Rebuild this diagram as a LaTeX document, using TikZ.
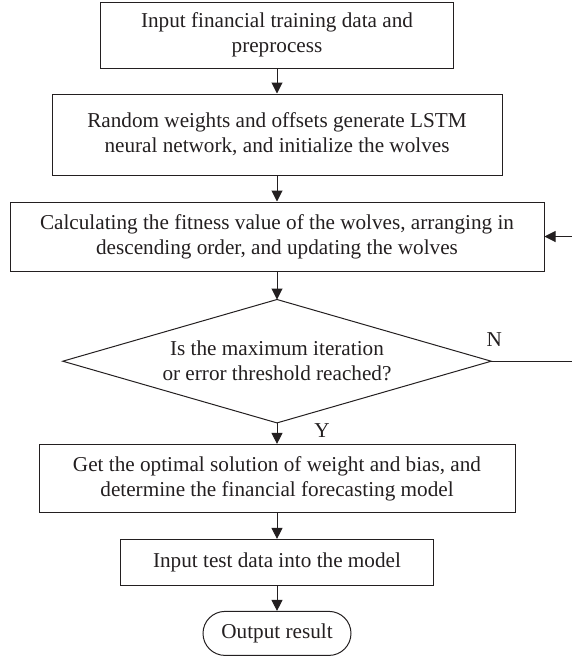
\documentclass[tikz,border=0pt]{standalone}
\usepackage{fontspec}
\setmainfont{Liberation Serif}
\usepackage{xcolor}
\usepackage{tikz}
\usetikzlibrary{arrows.meta,positioning}
\definecolor{ink}{HTML}{231F20}
\tikzset{
  stepbox/.style={rectangle, draw=ink, line width=1pt, align=center, inner sep=0pt, text=ink},
  testbox/.style={rectangle, align=center, inner sep=0pt, text=ink},
  endbox/.style={rectangle, rounded corners=22pt, draw=ink, line width=1pt, inner sep=0pt, text=ink},
  lbl/.style={text=ink, inner sep=0pt},
  edge/.style={draw=ink, line width=1pt},
  flow/.style={-{Triangle[length=11pt,width=11pt]}, draw=ink, line width=1pt},
}

\begin{document}
\begin{tikzpicture}[x=1pt, y=-1pt, every node/.style={font=\fontsize{21.2}{25}\selectfont}]
\useasboundingbox (0,0) rectangle (572,657);
\node[stepbox, minimum width=353pt, minimum height=66pt] (load) at (277,35)
 {Input financial training data and\\preprocess};
\node[stepbox, minimum width=450pt, minimum height=81pt, below=25pt of load] (init)
 {Random weights and offsets generate LSTM\\neural network, and initialize the wolves};
\node[stepbox, minimum width=534pt, minimum height=69pt, below=26pt of init] (fit)
 {Calculating the fitness value of the wolves, arranging in\\descending order, and updating the wolves};
\node[testbox, minimum width=428pt, minimum height=123pt, below=28pt of fit] (stop)
 {Is the maximum iteration\\or error threshold reached?};
\draw[edge] (stop.north) -- (stop.east) -- (stop.south) -- (stop.west) -- cycle;
\node[stepbox, minimum width=476pt, minimum height=68pt, below=21pt of stop] (best)
 {Get the optimal solution of weight and bias, and\\determine the financial forecasting model};
\node[stepbox, minimum width=313pt, minimum height=46pt, below=26pt of best] (test)
 {Input test data into the model};
\node[endbox, minimum width=148pt, minimum height=44pt, below=25pt of test] (out)
 {Output result};
% labels of the test
\node[lbl] (nlbl) at ([xshift=3pt, yshift=22pt]stop.east) {N};
\node[lbl] (ylbl) at ([xshift=45pt, yshift=-8pt]stop.south) {Y};
\coordinate (loop) at ([xshift=88pt]stop.east);
% connectors
\draw[flow] (load) -- (init);
\draw[flow] (init) -- (fit);
\draw[flow] (fit) -- (stop);
\draw[flow] (stop) -- (best);
\draw[flow] (best) -- (test);
\draw[flow] (test) -- (out);
\draw[flow] (stop.east) -- (loop) |- (fit.east);
\end{tikzpicture}
\end{document}
